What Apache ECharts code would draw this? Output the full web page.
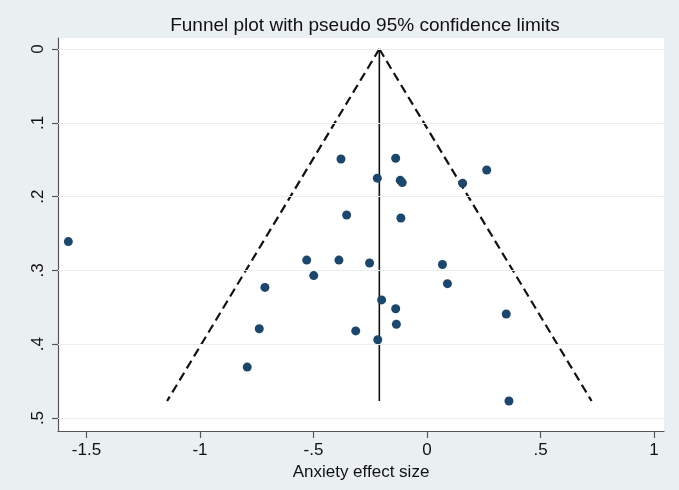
<!DOCTYPE html>
<html>
<head>
<meta charset="utf-8">
<title>Funnel plot</title>
<script src="https://cdn.jsdelivr.net/npm/echarts@6/dist/echarts.min.js"></script>
<style>
  html, body { margin: 0; padding: 0; background: #eaf0f2; }
  #chart { width: 679px; height: 490px; }
</style>
</head>
<body>
<div id="chart"></div>
<script>
// study effect sizes and their standard errors
const effect = [-1.580, -0.379, -0.138, -0.219, -0.118, -0.109, 0.157, 0.263, -0.354, -0.115,
  -0.530, -0.388, -0.253, -0.499, -0.714, -0.739, -0.792, -0.314, 0.068, 0.090,
  -0.200, -0.138, -0.135, -0.217, 0.349, 0.361]
const stdErr = [0.261, 0.149, 0.148, 0.175, 0.178, 0.181, 0.182, 0.164, 0.225, 0.229,
  0.286, 0.286, 0.290, 0.307, 0.323, 0.379, 0.431, 0.382, 0.292, 0.318,
  0.340, 0.352, 0.373, 0.394, 0.359, 0.477]

// pooled estimate and pseudo 95% limits (end points)
const pooled = [[-0.21, 0], [-0.21, 0.477]]
const lowerLimit = [[-0.21, 0], [-1.145, 0.477]]
const upperLimit = [[-0.21, 0], [0.725, 0.477]]

const xTicks = [-1.5, -1, -0.5, 0, 0.5, 1]
const yTicks = [0, 0.1, 0.2, 0.3, 0.4, 0.5]

const fmt = v => String(v).replace('0.', '.')
const font = 'Liberation Sans'

const chart = echarts.init(document.getElementById('chart'))

chart.setOption({
  backgroundColor: '#eaf0f2',
  animation: false,
  title: {
    text: 'Funnel plot with pseudo 95% confidence limits',
    left: 360,
    textAlign: 'center',
    top: 11,
    textStyle: { fontFamily: font, fontSize: 19, fontWeight: 'normal', color: '#111' }
  },
  grid: {
    left: 58, right: 15, top: 38, bottom: 59,
    show: true, backgroundColor: '#fff', borderWidth: 0
  },
  xAxis: {
    type: 'value',
    min: -1.6256,
    max: 1.044,
    name: 'Anxiety effect size',
    nameLocation: 'middle',
    nameGap: 29,
    nameTextStyle: { fontFamily: font, fontSize: 17, color: '#111' },
    axisLine: { onZero: false, lineStyle: { color: '#555', width: 1.2 } },
    axisTick: { show: true, customValues: xTicks, length: 7, lineStyle: { color: '#555', width: 1.2 } },
    axisLabel: { customValues: xTicks, formatter: fmt, margin: 11, fontFamily: font, fontSize: 17, color: '#111' },
    splitLine: { show: false }
  },
  yAxis: {
    type: 'value',
    inverse: true,
    min: -0.0149,
    max: 0.5176,
    axisLine: { show: true, onZero: false, lineStyle: { color: '#555', width: 1.2 } },
    axisTick: { show: true, customValues: yTicks, length: 6, lineStyle: { color: '#555', width: 1.2 } },
    axisLabel: { customValues: yTicks, formatter: fmt, rotate: 90, margin: 11, fontFamily: font, fontSize: 17, color: '#111' },
    splitLine: { show: false }
  },
  series: [
    {
      type: 'line',
      data: lowerLimit,
      symbol: 'none',
      lineStyle: { color: '#111', width: 2.2, type: [9, 5] },
      markLine: {
        silent: true,
        symbol: 'none',
        label: { show: false },
        lineStyle: { color: '#e8eeee', width: 1, type: 'solid' },
        data: yTicks.map(v => ({ yAxis: v }))
      },
      z: 3
    },
    {
      type: 'line',
      data: upperLimit,
      symbol: 'none',
      lineStyle: { color: '#111', width: 2.2, type: [9, 5] },
      z: 3
    },
    {
      type: 'line',
      data: pooled,
      symbol: 'none',
      lineStyle: { color: '#111', width: 1.6 },
      z: 3
    },
    {
      type: 'scatter',
      data: effect.map((e, i) => [e, stdErr[i]]),
      symbolSize: 9,
      itemStyle: { color: '#1a476f', opacity: 1 },
      z: 4
    }
  ]
})
</script>
</body>
</html>
